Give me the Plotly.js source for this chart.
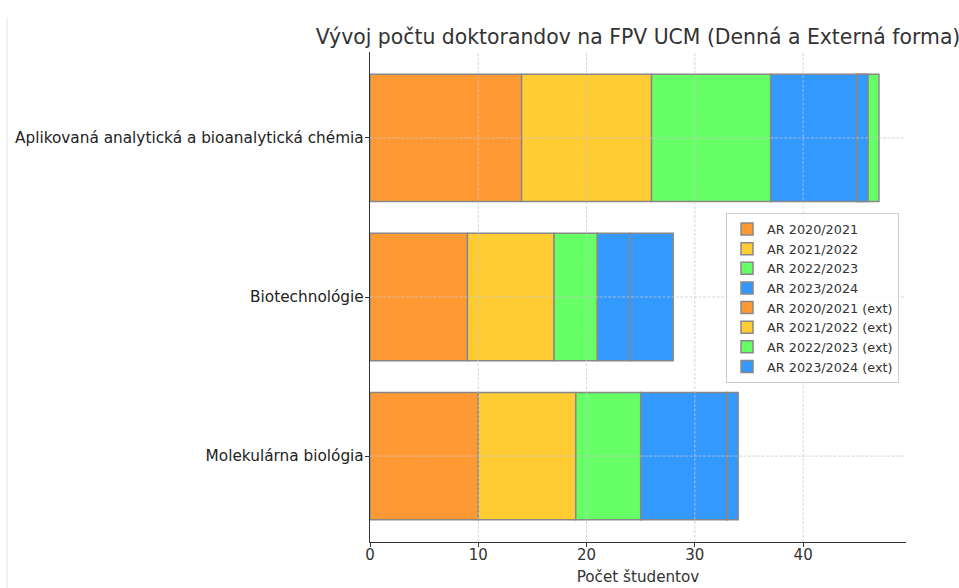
<!DOCTYPE html>
<html>
<head>
<meta charset="utf-8">
<script src="https://cdn.plot.ly/plotly-3.0.1.min.js"></script>
<style>html,body{margin:0;padding:0;background:#fff;}#chart{width:959px;height:588px;}</style>
</head>
<body>
<div id="chart"></div>
<script>
// Categories (bottom to top)
const programs = ['Molekulárna biológia', 'Biotechnológie', 'Aplikovaná analytická a bioanalytická chémia'];

// Denná forma
const denna_2020 = [10, 9, 14];
const denna_2021 = [9, 8, 12];
const denna_2022 = [6, 4, 11];
const denna_2023 = [8, 3, 8];

// Externá forma
const ext_2020 = [0, 0, 0];
const ext_2021 = [0, 0, 0];
const ext_2022 = [0, 0, 2];
const ext_2023 = [1, 4, 1];

const dennaNames = ['AR 2020/2021', 'AR 2021/2022', 'AR 2022/2023', 'AR 2023/2024'];
const extNames = ['AR 2020/2021 (ext)', 'AR 2021/2022 (ext)', 'AR 2022/2023 (ext)', 'AR 2023/2024 (ext)'];
const colors = ['#FF9933', '#FFCC33', '#66FF66', '#3399FF'];
const xTicks = [0, 10, 20, 30, 40];

const denna = [denna_2020, denna_2021, denna_2022, denna_2023];
const ext = [ext_2020, ext_2021, ext_2022, ext_2023];

const traces = [];
let left = programs.map(() => 0);
denna.forEach((vals, i) => {
  traces.push({
    type: 'bar', orientation: 'h', y: programs, x: vals, base: left.slice(),
    name: dennaNames[i], width: 0.8,
    marker: {color: colors[i], line: {color: '#888888', width: 1.5}},
    hoverinfo: 'x+name'
  });
  left = left.map((v, k) => v + vals[k]);
});
// external bars drawn from the full-time total
const dennaTotal = left.slice();
ext.forEach((vals, i) => {
  traces.push({
    type: 'bar', orientation: 'h', y: programs, x: vals, base: dennaTotal.slice(),
    name: extNames[i], width: 0.8,
    marker: {color: colors[i], line: {color: '#888888', width: 1.5}},
    hoverinfo: 'x+name'
  });
});

const gridStyle = {color: 'rgba(200,200,200,0.75)', width: 1, dash: '3px,1.5px'};
const shapes = [];
xTicks.slice(1).forEach(t => shapes.push({type: 'line', layer: 'above', xref: 'x', yref: 'paper', x0: t, x1: t, y0: 0, y1: 1, line: gridStyle}));
programs.forEach((p, i) => shapes.push({type: 'line', layer: 'above', xref: 'paper', yref: 'y', x0: 0, x1: 1, y0: i, y1: i, line: gridStyle}));
shapes.push({type: 'line', layer: 'below', xref: 'paper', yref: 'paper', x0: -0.677, x1: -0.677, y0: -0.1, y1: 1.071, line: {color: '#e6e6e6', width: 1}});

const layout = {
  width: 959, height: 588,
  margin: {l: 370, r: 53, t: 52, b: 46},
  paper_bgcolor: '#fff', plot_bgcolor: '#fff',
  barmode: 'overlay',
  font: {family: 'DejaVu Sans', size: 15, color: '#333'},
  title: {text: 'Vývoj počtu doktorandov na FPV UCM (Denná a Externá forma)', font: {family: 'DejaVu Sans', size: 20.4, color: '#333'}, xref: 'paper', x: 0.5, xanchor: 'center', yref: 'container', y: 0.938, yanchor: 'middle'},
  xaxis: {
    range: [0, 49.5], tickvals: xTicks, ticktext: xTicks.map(String),
    showgrid: false, zeroline: false, showline: true, linecolor: '#333', linewidth: 1.2,
    ticks: 'outside', ticklen: 4, tickcolor: '#333', ticklabelstandoff: -5,
    tickfont: {size: 15, color: '#333'},
    title: {text: 'Počet študentov', font: {size: 15.2, color: '#333'}, standoff: 8}
  },
  yaxis: {
    type: 'category', categoryorder: 'array', categoryarray: programs,
    range: [-0.54, 2.54], showgrid: false, zeroline: false,
    showline: true, linecolor: '#333', linewidth: 1.2,
    ticks: 'outside', ticklen: 4, tickcolor: '#333', ticklabelstandoff: -2,
    tickfont: {size: 15.3, color: '#222'}
  },
  legend: {
    x: 0.987, xanchor: 'right', y: 0.671, yanchor: 'top',
    bgcolor: 'rgba(255,255,255,0.8)', bordercolor: '#cccccc', borderwidth: 1,
    font: {size: 12.8, color: '#333'}, traceorder: 'normal', tracegroupgap: 0
  },
  shapes: shapes,
  showlegend: true
};

Plotly.newPlot('chart', traces, layout, {displayModeBar: false, staticPlot: true});
</script>
</body>
</html>
